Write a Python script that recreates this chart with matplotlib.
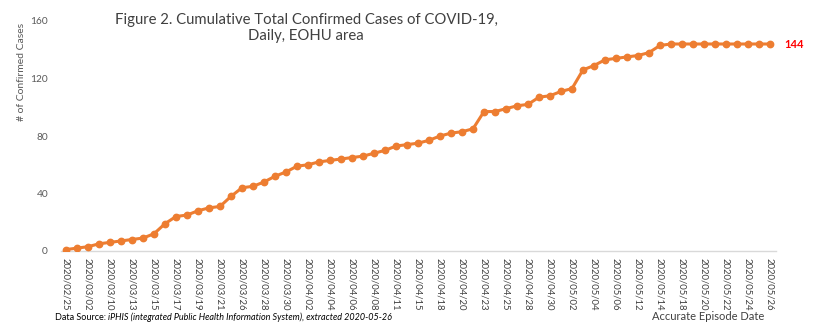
import matplotlib; matplotlib.use("Agg")
import matplotlib.pyplot as plt, numpy as np

plt.rcParams.update({"font.family": ["Lato", "DejaVu Sans"]})

# cumulative confirmed cases, one value per reported episode date (category axis)
cases = [1, 2, 3, 5, 6, 7, 8, 9, 12, 19, 24, 25, 28, 30, 31, 38, 44, 45, 48, 52,
         55, 59, 60, 62, 63, 64, 65, 66, 68, 70, 73, 74, 75, 77, 80, 82, 83, 85, 97, 97,
         99, 101, 102, 107, 108, 111, 113, 126, 129, 133, 134, 135, 136, 138, 143,
         144, 144, 144, 144, 144, 144, 144, 144, 144, 144]
# labels shown on every second category
tick_labels = ["2020/02/25", "2020/03/02", "2020/03/10", "2020/03/13", "2020/03/15",
               "2020/03/17", "2020/03/19", "2020/03/21", "2020/03/26", "2020/03/28",
               "2020/03/30", "2020/04/02", "2020/04/04", "2020/04/06", "2020/04/08",
               "2020/04/11", "2020/04/15", "2020/04/18", "2020/04/20", "2020/04/23",
               "2020/04/25", "2020/04/28", "2020/04/30", "2020/05/02", "2020/05/04",
               "2020/05/06", "2020/05/12", "2020/05/14", "2020/05/18", "2020/05/20",
               "2020/05/22", "2020/05/24", "2020/05/26"]
y_ticks = [0, 40, 80, 120, 160]

W, H = 818, 324
fig = plt.figure(figsize=(W/100, H/100), dpi=100)
ax = fig.add_axes([60.5/W, (H-251)/H, 715/W, 230/H])
x = np.arange(len(cases))
ax.plot(x, cases, color="#ED7D31", lw=2.2, marker="o", ms=4.6, zorder=3)
ax.set_xlim(-0.5, len(cases)-0.5); ax.set_ylim(0, 160)
ax.set_yticks(y_ticks)
ax.set_xticks(x[::2]); ax.set_xticklabels(tick_labels, rotation=270, fontsize=6.8, color="#404040")
ax.tick_params(axis="y", labelsize=7.3, labelcolor="#595959", length=0, pad=9)
ax.tick_params(axis="x", length=0, pad=5)
for s in ("top", "right", "left"): ax.spines[s].set_visible(False)
ax.spines["bottom"].set_color("#D9D9D9"); ax.spines["bottom"].set_linewidth(1)
ax.set_ylabel("# of Confirmed Cases", fontsize=7.5, color="#595959")
ax.yaxis.set_label_coords(-34/715, 0.78)
ax.annotate(f"{cases[-1]}", (x[-1], cases[-1]), xytext=(10, 0), textcoords="offset points",
            va="center", ha="left", fontsize=8, fontweight="bold", color="#FF0000")

fig.text(306/W, 1-28/H, "Figure 2. Cumulative Total Confirmed Cases of COVID-19,\nDaily, EOHU area",
         ha="center", va="center", fontsize=10.7, color="#404040", linespacing=1.1)
t1 = fig.text(55/W, 1-317/H, "Data Source: ", fontsize=6.5, va="center", color="#000000")
fig.canvas.draw()
bb = t1.get_window_extent()
fig.text(bb.x1/W, 1-317/H, "iPHIS (integrated Public Health Information System), extracted 2020-05-26",
         fontsize=6.5, va="center", style="italic", color="#000000")
fig.text(708/W, 1-316/H, "Accurate Episode Date", fontsize=8, ha="center", va="center", color="#404040")

fig.savefig("out.png", dpi=100)
